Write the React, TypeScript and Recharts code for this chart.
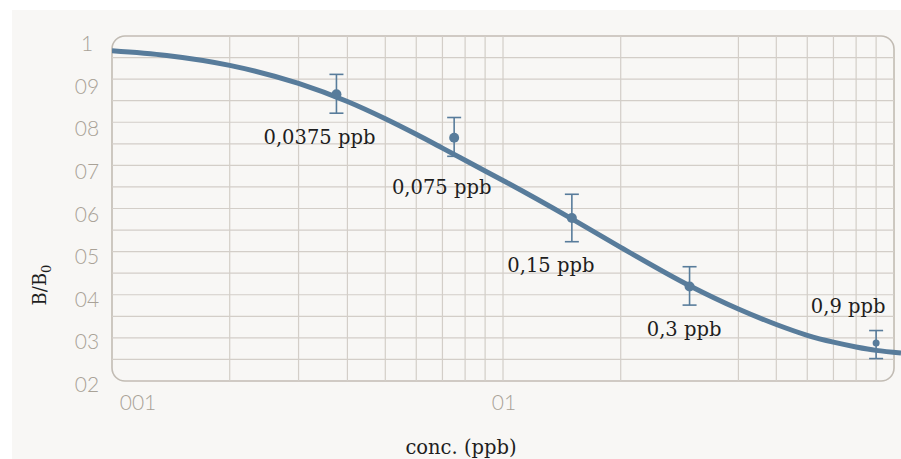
import {
  ComposedChart,
  Line,
  Scatter,
  ErrorBar,
  XAxis,
  YAxis,
  ReferenceLine,
  ReferenceArea,
} from "recharts";

// fitted curve
const curveX = [0.01, 0.0138, 0.02, 0.03, 0.04, 0.05, 0.06, 0.07, 0.08, 0.09, 0.1, 0.15, 0.2, 0.3, 0.4, 0.5, 0.6, 0.7, 0.8, 0.9, 1.042];
const curveY = [0.966, 0.955, 0.932, 0.89, 0.848, 0.808, 0.772, 0.74, 0.712, 0.687, 0.665, 0.576, 0.51, 0.421, 0.367, 0.331, 0.306, 0.29, 0.279, 0.271, 0.265];

// measured standards
const pointX = [0.0375, 0.075, 0.15, 0.3, 0.9];
const pointY = [0.865, 0.764, 0.578, 0.419, 0.288];
const errLow = [0.044, 0.043, 0.055, 0.043, 0.036];
const errHigh = [0.046, 0.047, 0.055, 0.046, 0.029];
const pointLabels = ["0,0375 ppb", "0,075 ppb", "0,15 ppb", "0,3 ppb", "0,9 ppb"];

// axes / grid
const xTicks = [0.01, 0.1];
const xTickLabels = ["001", "01"];
const yTicks = [0.2, 0.3, 0.4, 0.5, 0.6, 0.7, 0.8, 0.9, 1];
const yTickLabels = ["02", "03", "04", "05", "06", "07", "08", "09", "1"];
const xGrid = [0.02, 0.03, 0.04, 0.05, 0.06, 0.07, 0.08, 0.09, 0.1, 0.2, 0.4, 0.5, 0.6, 0.7, 0.8, 0.9];
const yGrid = [0.25, 0.3, 0.35, 0.4, 0.45, 0.5, 0.55, 0.6, 0.65, 0.7, 0.75, 0.8, 0.85, 0.9, 0.95];

const curve = curveX.map((x, i) => ({ x, y: curveY[i] }));
const points = pointX.map((x, i) => ({
  x,
  y: pointY[i],
  err: [errLow[i], errHigh[i]],
  label: pointLabels[i],
}));

const BLUE = "#587c9b";
const GRID = "#d3cec8";
const TICK = "#a9a297";
const SERIF = "'DejaVu Serif', serif";
const SANS = "Lato, 'Open Sans', sans-serif";

// label placement relative to each dot
const LABEL_DX = [-17, -12.5, -21, -5.5, -28];
const LABEL_DY = [50, 56, 54, 49, -30];
const DOT_R = [5, 5, 5, 5, 3.5];

const YTick = (props: any) => {
  const { x, y, payload } = props;
  const v = payload.value;
  const i = yTicks.indexOf(v);
  return (
    <text
      x={x - 25}
      y={y + 15.3 - (1 - v) * 5.6}
      textAnchor="middle"
      fontFamily={SANS}
      fontWeight={300}
      fontSize={21}
      fill={TICK}
    >
      {yTickLabels[i]}
    </text>
  );
};

const XTick = (props: any) => {
  const { x, y, payload, index } = props;
  const i = xTicks.indexOf(payload.value);
  return (
    <text
      x={index === 0 ? x + 26 : x + 1}
      y={y + 28.5}
      textAnchor="middle"
      fontFamily={SANS}
      fontWeight={300}
      fontSize={21}
      fill={TICK}
    >
      {xTickLabels[i]}
    </text>
  );
};

const Dot = (props: any) => {
  const { cx, cy, payload } = props;
  const i = pointX.indexOf(payload.x);
  return (
    <g>
      <circle cx={cx} cy={cy} r={DOT_R[i]} fill={BLUE} />
      <text
        x={cx + LABEL_DX[i]}
        y={cy + LABEL_DY[i]}
        textAnchor="middle"
        fontFamily={SERIF}
        fontSize={19.5}
        fill="#1e1e1e"
      >
        {payload.label}
      </text>
    </g>
  );
};

export default function App() {
  return (
    <div style={{ position: "fixed", left: 0, top: 0, width: 901, height: 459, background: "#fff", overflow: "hidden" }}>
      <div style={{ position: "absolute", left: 12, top: 10, right: 0, bottom: 0, background: "#f8f7f5" }} />
      <div style={{ position: "absolute", left: 0, top: 0 }}>
        <ComposedChart width={901} height={459} margin={{ top: 36, right: 0, left: 0, bottom: 38 }}>
          <XAxis
            dataKey="x"
            type="number"
            scale="log"
            domain={[0.01, 1.042]}
            allowDataOverflow
            ticks={xTicks}
            interval={0}
            axisLine={false}
            tickLine={false}
            tickSize={0}
            tickMargin={0}
            height={40}
            tick={<XTick />}
            label={{
              content: () => (
                <text x={461} y={454} textAnchor="middle" fontFamily={SERIF} fontSize={19.5} fill="#1e1e1e">
                  conc. (ppb)
                </text>
              ),
            }}
          />
          <YAxis
            type="number"
            domain={[0.2, 1]}
            allowDataOverflow
            ticks={yTicks}
            interval={0}
            axisLine={false}
            tickLine={false}
            tickSize={0}
            tickMargin={0}
            width={112}
            tick={<YTick />}
            label={{
              content: () => (
                <text
                  transform="rotate(-90, 46, 285)"
                  x={46}
                  y={285}
                  textAnchor="middle"
                  fontFamily={SERIF}
                  fontSize={18}
                  fill="#1e1e1e"
                >
                  B/B
                  <tspan dy={5} fontSize={13}>0</tspan>
                </text>
              ),
            }}
          />
          {yGrid.map((v) => (
            <ReferenceLine
              key={"h" + v}
              segment={[
                { x: 0.01, y: v },
                { x: 1, y: v },
              ]}
              stroke={GRID}
              strokeWidth={1.2}
            />
          ))}
          {xGrid.map((v) => (
            <ReferenceLine key={"v" + v} x={v} stroke={GRID} strokeWidth={1.2} />
          ))}
          <ReferenceArea
            x1={0.01}
            x2={1}
            y1={0.2}
            y2={1}
            shape={(p: any) => (
              <rect
                x={p.x}
                y={p.y}
                width={p.width}
                height={p.height}
                rx={13}
                ry={13}
                fill="none"
                stroke="#c2bcb4"
                strokeWidth={1.6}
              />
            )}
          />
          <Line
            data={curve}
            dataKey="y"
            type="monotone"
            stroke={BLUE}
            strokeWidth={5}
            dot={false}
            activeDot={false}
            isAnimationActive={false}
          />
          <Scatter data={points} dataKey="y" shape={<Dot />} isAnimationActive={false}>
            <ErrorBar dataKey="err" direction="y" width={7} stroke={BLUE} strokeWidth={1.6} isAnimationActive={false} />
          </Scatter>
        </ComposedChart>
      </div>
    </div>
  );
}
